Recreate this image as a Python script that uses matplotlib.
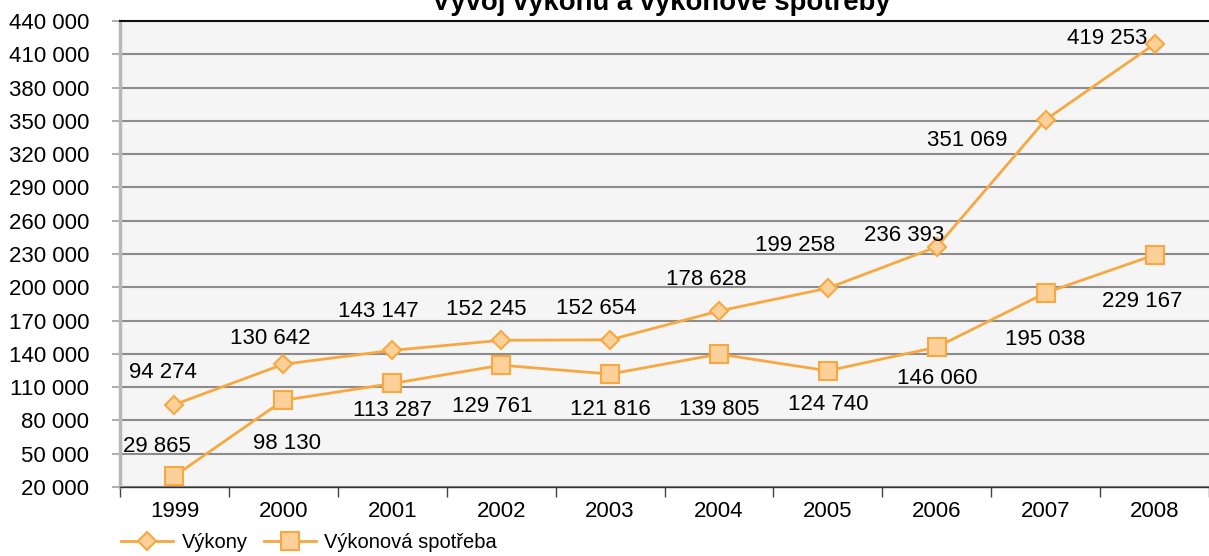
import numpy as np
import matplotlib
matplotlib.use('Agg')
import matplotlib.pyplot as plt

plt.rcParams['font.family'] = ['Liberation Sans', 'DejaVu Sans']

years = ['1999', '2000', '2001', '2002', '2003', '2004', '2005', '2006', '2007', '2008']
vykony = [94274, 130642, 143147, 152245, 152654, 178628, 199258, 236393, 351069, 419253]
spotreba = [29865, 98130, 113287, 129761, 121816, 139805, 124740, 146060, 195038, 229167]

# label offsets in pixels (dx, dy), text centred
vykonyOffsets = [(-12, 32), (-13, 26), (-14, 39), (-15, 31), (-14, 31), (-13, 31), (-33, 43), (-33, 11), (-78, -21), (-47, 6)]
spotrebaOffsets = [(-18, 30), (4, -43), (0, -27), (-9, -41), (0, -35), (0, -55), (0, -34), (0, -31), (0, -47), (-12, -47)]

lineColor = '#f7a840'
fillColor = '#fdd09a'

fig = plt.figure(figsize=(12.09, 5.56), dpi=100)
ax = fig.add_axes([120/1209, 1-487/556, 1-120/1209, (487-21)/556])
ax.set_facecolor('#f5f5f5')

x = np.arange(len(years))
l1, = ax.plot(x, vykony, color=lineColor, lw=2, marker='D', ms=9, mfc=fillColor, mec=lineColor, mew=1.5, label='Výkony', zorder=3)
l2, = ax.plot(x, spotreba, color=lineColor, lw=2, marker='s', ms=13, mfc=fillColor, mec=lineColor, mew=1.5, label='Výkonová spotřeba', zorder=3)

def fmt(v):
    return f'{v:,}'.replace(',', ' ')

for (xi, v, off) in zip(x, vykony, vykonyOffsets):
    ax.annotate(fmt(v), (xi, v), xytext=off, textcoords='offset pixels', ha='center', va='center', fontsize=16, color='black', zorder=4)
for (xi, v, off) in zip(x, spotreba, spotrebaOffsets):
    ax.annotate(fmt(v), (xi, v), xytext=off, textcoords='offset pixels', ha='center', va='center', fontsize=16, color='black', zorder=4)

ax.set_xlim(-0.5, len(years)-0.5)
ax.set_ylim(20000, 440000)
yt = np.arange(20000, 440001, 30000)
ax.set_yticks(yt)
ax.set_yticklabels([fmt(v) for v in yt], fontsize=16)
ax.yaxis.grid(True, color='#8c8c8c', lw=1.5)
ax.set_axisbelow(True)

ax.set_xticks(x)
ax.set_xticklabels(years, fontsize=16)
ax.set_xticks(np.arange(-0.5, len(years)), minor=True)
ax.tick_params(axis='x', which='major', length=0, pad=10)
ax.tick_params(axis='x', which='minor', length=7, width=1, color='#444444', direction='out')
ax.tick_params(axis='y', length=6, width=1.5, color='#b0b0b0', pad=16)

ax.spines['left'].set_color('#b8b8b8')
ax.spines['left'].set_linewidth(2.5)
ax.spines['bottom'].set_color('#333333')
ax.spines['bottom'].set_linewidth(1)
ax.spines['top'].set_color('#111111')
ax.spines['top'].set_linewidth(1.5)
ax.spines['right'].set_visible(False)

fig.text(661/1209, 1-10/556, 'Vývoj výkonu a výkonové spotřeby', ha='center', va='baseline', fontsize=19.8, fontweight='bold')

fig.legend(handles=[l1, l2], loc='center left', bbox_to_anchor=(113/1209, 1-543/556), ncol=2, frameon=False, fontsize=14.5, handlelength=2.6, handletextpad=0.4, columnspacing=0.8, borderaxespad=0)

fig.savefig('out.png', dpi=100)
